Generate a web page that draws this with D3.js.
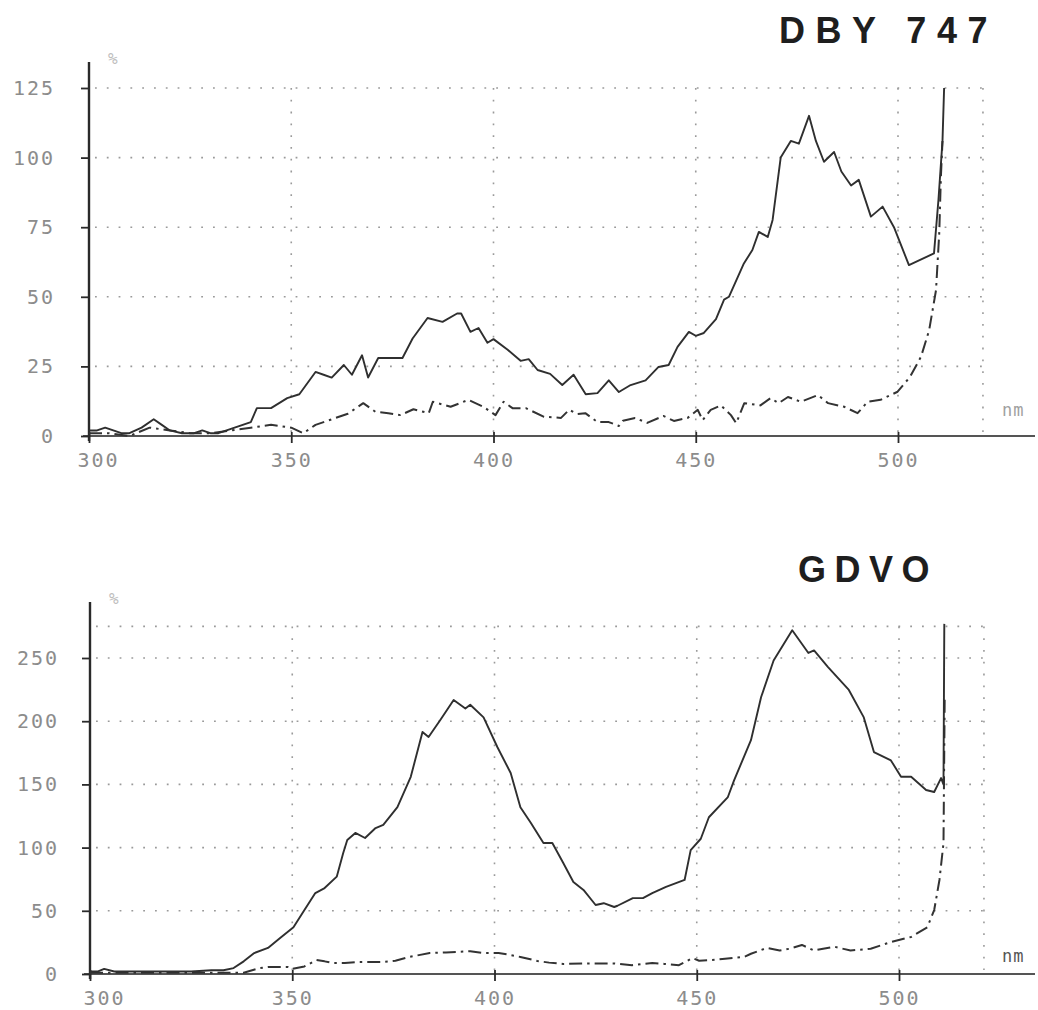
<!DOCTYPE html>
<html>
<head>
<meta charset="utf-8">
<script src="https://cdn.jsdelivr.net/npm/d3@7"></script>
<style>
  html, body { margin: 0; padding: 0; background: #ffffff; }
  svg { display: block; }
</style>
</head>
<body>
<svg id="chart" width="1038" height="1010"></svg>
<script>
// ---------------- DATA ----------------
const xTicks = [300, 350, 400, 450, 500];
const xGridValues = [350, 400, 450, 500, 521];

// Panel 1: DBY 747
const dbyTitle = "DBY 747";
const dbyYTicks = [0, 25, 50, 75, 100, 125];
const dbyYGrid = [25, 50, 75, 100, 125];
const dbySolidNm = [300,302,304,306,308,310,313,316,318,320,323,326,328,330,332,334,336,338,340,341.5,345,349,352,356,358,360,363,365,367.5,369,371.5,374,377.5,380,383.7,387.4,391,392,394.3,396.3,398.5,400,403.5,406.7,408.7,410.9,414,417,419.8,422.8,425.7,428.5,431,433.9,437.6,440.8,443.3,445.5,448.3,450,452,455,457,458.2,461.9,464,465.6,467.8,469,471,473.5,475.5,478,479.7,481.7,484.2,486,488.4,490.3,493.3,496.2,499,502.7,508.9,510,511,511.4];
const dbySolidVal = [2,2,3,2,1,1,3,6,4,2,1,1,2,1,1,2,3,4,5,10,10,13.6,15,23,22,21,25.5,22,29,21,28,28,28,35,42.4,41,44,44,37.4,38.8,33.5,34.8,31,27,27.6,23.7,22.3,18.3,22,15,15.4,20,15.8,18.3,20,24.8,25.5,32,37.4,36,37,42,49,50,62,66.8,73.3,71.5,77.6,100,106,105,115,106,98.5,102,95,90,92,78.8,82.4,75,61.4,65.6,84.8,106,125];
const dbyDashNm = [300,305,310,315,320,325,330,335,340,345,350,353,356,358,361,364,367.8,370.8,374,377,380.2,384,385,389.4,393.8,397.5,400.5,402.5,404.7,408,412.5,416.7,418.7,420.8,422.7,425.7,428.5,431,432,435,438,442,444.6,448,450.5,451.7,453.7,456.2,458.7,460,462,466,468.5,470.5,472.8,476,480.2,482.7,486.7,490,492.5,495.7,499.9,503,505.7,507.7,509.4,510.2,510.6,511];
const dbyDashVal = [1,1,0,3,2,1,1,2,3,4,3,1,4,5,6.5,8,11.8,8.7,8.2,7.5,9.6,8.2,12.3,10.5,13,10.5,7.5,12.3,10,10,6.9,6.5,9.4,7.9,8.2,5,5,3.6,5.5,6.5,4.7,7.2,5.4,6.5,9.4,5.7,9.4,11,7.5,4.6,11.8,11,13.6,11.8,14,12.3,14.7,11.8,10.5,8.2,12.3,13,15.9,21.3,28.5,38,52.4,73,93,106];

// Panel 2: GDVO
const gdvoTitle = "GDVO";
const gdvoYTicks = [0, 50, 100, 150, 200, 250];
const gdvoYGrid = [50, 100, 150, 200, 250, 275];
const gdvoSolidNm = [300,302,303.5,306,310,315,320,325,330,333,335.5,338,340.6,344,347,350.3,352.5,355.7,358,361,362.6,363.6,365.6,368,370.6,372.5,376,379.3,382.2,383.7,386.6,389.9,392.8,394,397.3,400.7,404,406.4,409,412.1,414.3,417,419.5,422,425,427,429.6,430.4,434.2,436.7,439,442.4,447,448.5,451,453,457.7,459.2,463.4,465.9,469,473.6,477.6,479,482.4,487.6,491.3,493.8,498,500.5,503,506.7,508.7,510.4,511,511.2];
const gdvoSolidVal = [2,2,4,2,2,2,2,2,3,3,4.7,10,16.6,20.6,28.5,37,48,64,68,77,95.7,106,111.6,107.6,115.5,118,132,156,191.5,187.5,201,216.8,210,213,203,179.6,159,132,119.5,103.6,103.6,87.8,72.8,66.5,54.6,56,53,54,60,60,64,69,74.4,98,107,124,140,153,185,219,248,272,254,256,243,224.7,203,175.6,169,156,156,145.6,144,155,150,277];
const gdvoDashNm = [300,305,310,315,320,325,330,335,338,342,344,347,349,350,353,356,358,360,363,366,369,372,375.5,379,384,388,394,397.3,401,404,406.4,410.6,413.5,417,423,429.6,434,439,442,445.6,449,450.6,453.8,457,461.7,463.4,467.3,470.5,473,476,479,484,488,493,498,503,507,508.7,510,511,511.3];
const gdvoDashVal = [1,1,1,1,1,1,1,1,1,4.7,5.5,5.5,5.5,4,6,11,10,8.7,8.7,9.5,9.5,9.5,10.5,13.5,16.6,17,18,16.6,16.6,15,13.5,10.3,9,7.9,8.4,8.4,7,8.7,8,7,12.6,10.5,11,12,13.5,16,20.6,18.6,20,23,18.6,21.6,18.6,20,25.3,29.3,37,50.6,74.4,103.6,220];

// ---------------- DRAWING ----------------
const svg = d3.select("#chart");
const labelFont = "'DejaVu Sans Mono', 'Liberation Mono', monospace";
const inkColor = "#2a2a2a";
const gridColor = "#9a9a9a";
const labelColor = "#8c8c8c";

function drawPanel(cfg) {
  const g = svg.append("g");
  const x = d3.scaleLinear().domain([300, 500]).range([cfg.x0, cfg.x500]);
  const y = d3.scaleLinear().domain([0, cfg.yTop]).range([cfg.yBase, cfg.yBase - cfg.yTop * cfg.pxPerUnit]);
  const yMax = cfg.yGrid[cfg.yGrid.length - 1];
  const xRight = x(521);

  // grid: horizontal
  g.append("g").selectAll("line").data(cfg.yGrid).join("line")
    .attr("x1", cfg.x0 + 6).attr("x2", xRight)
    .attr("y1", d => y(d)).attr("y2", d => y(d))
    .attr("stroke", gridColor).attr("stroke-width", 1.6)
    .attr("stroke-dasharray", "1.8,10");
  // grid: vertical
  g.append("g").selectAll("line").data(xGridValues).join("line")
    .attr("x1", d => x(d)).attr("x2", d => x(d))
    .attr("y1", y(yMax)).attr("y2", cfg.yBase - 4)
    .attr("stroke", gridColor).attr("stroke-width", 1.6)
    .attr("stroke-dasharray", "1.8,10");

  // x axis baseline
  g.append("line")
    .attr("x1", cfg.x0 - 6).attr("x2", 1035)
    .attr("y1", cfg.yBase).attr("y2", cfg.yBase)
    .attr("stroke", "#555").attr("stroke-width", 1.8);

  // x axis ticks + labels
  const xAxis = d3.axisBottom(x).tickValues(xTicks).tickSize(7).tickFormat(d3.format("d"));
  const xa = g.append("g").attr("transform", `translate(0,${cfg.yBase})`).call(xAxis);
  xa.select(".domain").remove();
  xa.selectAll(".tick line").attr("y1", -4).attr("y2", 7).attr("stroke", inkColor).attr("stroke-width", 1.8);
  xa.selectAll(".tick text")
    .attr("y", cfg.xLabelDy).attr("dy", "0.71em")
    .attr("dx", d => d === 300 ? cfg.firstLabelShift : 0)
    .attr("fill", labelColor)
    .style("font-family", labelFont).style("font-size", "20px").style("letter-spacing", "2px");

  // y axis
  const yAxis = d3.axisLeft(y).tickValues(cfg.yTicks).tickSize(8).tickFormat(d3.format("d"));
  const ya = g.append("g").attr("transform", `translate(${cfg.x0},0)`).call(yAxis);
  ya.select(".domain").remove();
  ya.selectAll(".tick line").attr("stroke", inkColor).attr("stroke-width", 1.8);
  ya.selectAll(".tick text")
    .attr("x", -cfg.yLabelOffset)
    .attr("fill", labelColor)
    .style("font-family", labelFont).style("font-size", "20px").style("letter-spacing", "2px");
  g.append("line")
    .attr("x1", cfg.x0).attr("x2", cfg.x0)
    .attr("y1", cfg.axisTop).attr("y2", cfg.yBase + 5)
    .attr("stroke", inkColor).attr("stroke-width", 2.4);

  // unit labels
  g.append("text").attr("x", cfg.x0 + 19).attr("y", cfg.axisTop + 2)
    .attr("fill", "#bdbdbd").style("font-family", labelFont).style("font-size", "16px")
    .text("%");
  g.append("text").attr("x", 1002).attr("y", cfg.nmY)
    .attr("fill", cfg.nmColor).style("font-family", labelFont).style("font-size", "17px")
    .style("letter-spacing", "1px")
    .text("nm");

  // series
  const line = d3.line().x(d => x(d[0])).y(d => y(d[1]));
  const dash = d3.zip(cfg.dashNm, cfg.dashVal);
  const solid = d3.zip(cfg.solidNm, cfg.solidVal);
  g.append("path").datum(dash).attr("d", line)
    .attr("fill", "none").attr("stroke", "#333").attr("stroke-width", 2)
    .attr("stroke-dasharray", "13,5,2.5,5").attr("stroke-linejoin", "round");
  g.append("path").datum(solid).attr("d", line)
    .attr("fill", "none").attr("stroke", "#2f2f2f").attr("stroke-width", 1.9)
    .attr("stroke-linejoin", "round");

  // title
  g.append("text").attr("x", cfg.titleX).attr("y", cfg.titleY)
    .attr("fill", "#1e1e1e")
    .style("font-family", "'Liberation Sans', Arial, sans-serif")
    .style("font-weight", "bold").style("font-size", "36px")
    .style("letter-spacing", cfg.titleSpacing)
    .text(cfg.title);
}

drawPanel({
  title: dbyTitle, titleX: 779, titleY: 43, titleSpacing: "10.5px",
  x0: 89, x500: 898, yBase: 436, yTop: 125, pxPerUnit: 2.784, axisTop: 62,
  yTicks: dbyYTicks, yGrid: dbyYGrid, yLabelOffset: 34, xLabelDy: 17, firstLabelShift: 9,
  nmY: 416, nmColor: "#a0a0a0",
  solidNm: dbySolidNm, solidVal: dbySolidVal, dashNm: dbyDashNm, dashVal: dbyDashVal
});

drawPanel({
  title: gdvoTitle, titleX: 798, titleY: 582, titleSpacing: "8.5px",
  x0: 90, x500: 899, yBase: 974, yTop: 275, pxPerUnit: 1.264, axisTop: 602,
  yTicks: gdvoYTicks, yGrid: gdvoYGrid, yLabelOffset: 31, xLabelDy: 17, firstLabelShift: 14,
  nmY: 962, nmColor: "#555",
  solidNm: gdvoSolidNm, solidVal: gdvoSolidVal, dashNm: gdvoDashNm, dashVal: gdvoDashVal
});
</script>
</body>
</html>
